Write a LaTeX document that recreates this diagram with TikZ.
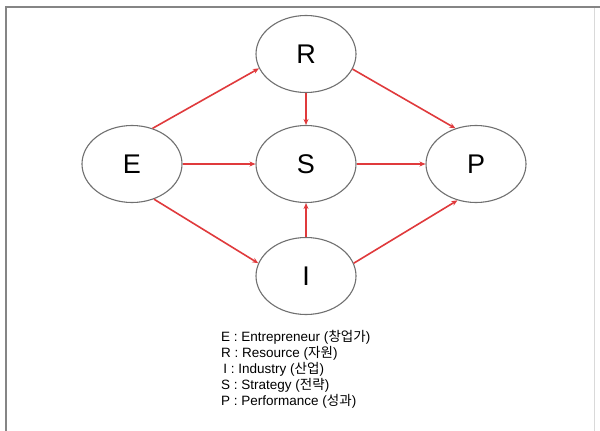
\documentclass[tikz,border=0pt]{standalone}
\usepackage{fontspec}
\setmainfont{Liberation Sans}
\newfontfamily\krfont{Noto Sans CJK KR}
\usetikzlibrary{shapes.geometric,arrows.meta}
\definecolor{linkred}{HTML}{E03A3C}
\definecolor{rimgray}{HTML}{707070}
\definecolor{framegray}{HTML}{858585}
\tikzset{
  factor/.style={ellipse, draw=rimgray, line width=1.1pt, minimum width=100pt,
    minimum height=77pt, inner sep=0pt, font=\fontsize{27}{27}\selectfont},
  link/.style={draw=linkred, line width=1.6pt, -{Stealth[length=6pt,width=5pt]}},
}
\begin{document}
\begin{tikzpicture}[x=1pt,y=-1pt]
\useasboundingbox (0,0) rectangle (600,431);
\fill[white] (0,0) rectangle (600,431);
% outer frame
\draw[framegray, line width=2pt] (6,440) -- (6,7) -- (600,7);
\draw[black!15, line width=1pt] (594,8) -- (594,440);

% factors
\node[factor] (R) at (306,54)  {R};
\node[factor] (E) at (132,164) {E};
\node[factor] (S) at (306,164) {S};
\node[factor] (P) at (476,164) {P};
\node[factor] (I) at (306,276) {I};

% links
\draw[link] (E.east) -- (S.west);
\draw[link] (S.east) -- (P.west);
\draw[link] (R.south) -- (S.north);
\draw[link] (I.north) -- (S.south);
\draw[link] (E.60) -- (R.197);
\draw[link] (R.342) -- (P.120);
\draw[link] (E.302) -- (I.165);
\draw[link] (I.15) -- (P.243);

% legend
\node[anchor=north west, align=left, inner sep=0pt,
      font=\fontsize{13.5}{16}\selectfont] (key) at (221,330)
  {E : Entrepreneur ({\krfont 창업가})\\
   R : Resource ({\krfont 자원})\\
   \,I : Industry ({\krfont 산업})\\
   S : Strategy ({\krfont 전략})\\
   P : Performance ({\krfont 성과})};
\end{tikzpicture}
\end{document}
